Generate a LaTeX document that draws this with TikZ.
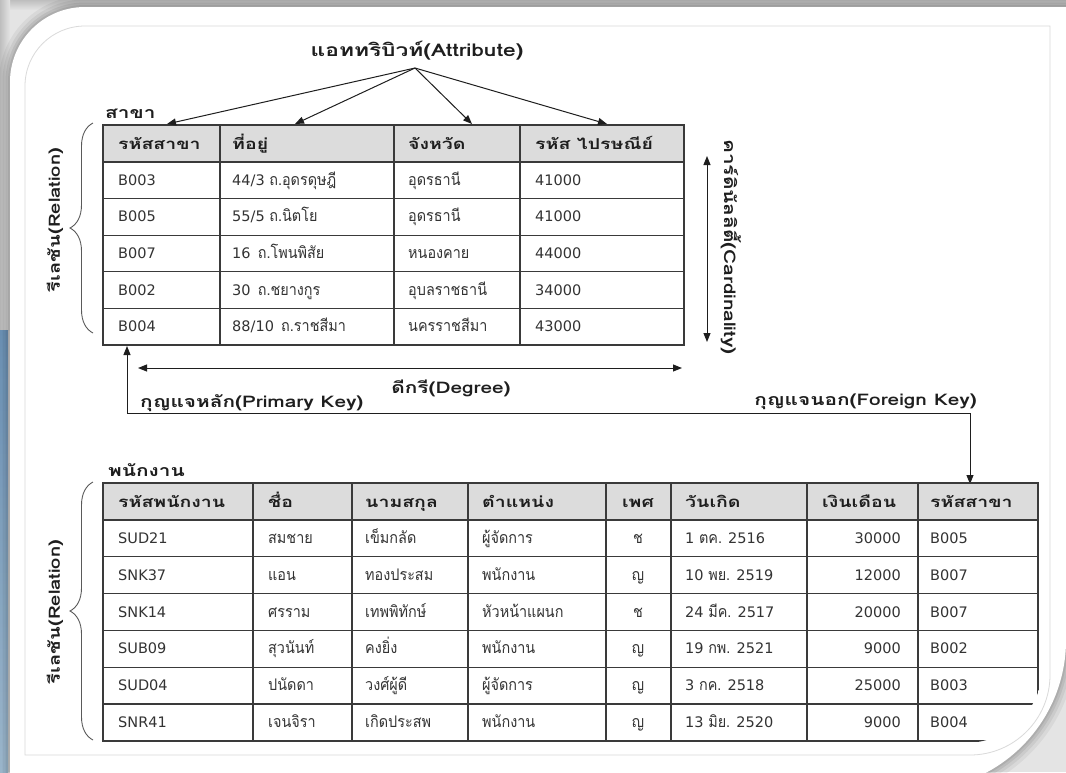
\documentclass[tikz,border=0pt]{standalone}
\usepackage{fontspec}
\setmainfont{DejaVu Sans}
\newfontfamily\thaireg[Script=Thai,FakeStretch=0.9]{Loma}
\newfontfamily\thaibold[Script=Thai,FakeStretch=1.3]{Loma}
\usetikzlibrary{arrows.meta,decorations.pathreplacing}

\definecolor{bggray}{HTML}{E4E4E4}
\definecolor{bandtop}{HTML}{BEBEBE}
\definecolor{stripA}{HTML}{6F96BB}
\definecolor{stripB}{HTML}{A3BFD5}
\definecolor{frameline}{HTML}{DADADA}
\definecolor{headfill}{HTML}{DCDCDC}
\definecolor{gridline}{HTML}{3A3A3A}
\definecolor{txt}{HTML}{333333}
\definecolor{ink}{HTML}{1E1E1E}
\definecolor{bracegray}{HTML}{5A5A5A}

\newcommand\bodyfont{\fontsize{14.5}{16}\selectfont}
\newcommand\T[1]{{\thaireg\fontsize{16}{18}\selectfont #1}}
\newcommand\headfont{\thaibold\bfseries\fontsize{15}{18}\selectfont}
\newcommand\labelfont{\thaibold\bfseries\fontsize{16}{19}\selectfont}
\newcommand\sidefont{\thaibold\bfseries\fontsize{15.5}{19}\selectfont}

% one row of the branch table: name, baseline y, four cells
\newcommand\brrow[6]{%
  \node[cell] (#1a) at (118,#2) {#3};
  \node[cell] (#1b) at (232,#2) {#4};
  \node[cell] (#1c) at (408,#2) {\T{#5}};
  \node[cell] (#1d) at (535,#2) {#6};}
% first seven cells of a staff row: name, baseline y, cells
\newcommand\emrow[9]{%
  \node[cell] (#1a) at (118,#2) {#3};
  \node[cell] (#1b) at (268,#2) {\T{#4}};
  \node[cell] (#1c) at (365,#2) {\T{#5}};
  \node[cell] (#1d) at (482,#2) {\T{#6}};
  \node[cellc] (#1e) at (638,#2) {\T{#7}};
  \node[cell] (#1f) at (685,#2) {#8};
  \node[cellr] (#1g) at (901,#2) {#9};}

\begin{document}
\begin{tikzpicture}[x=1pt,y=-1pt,
  cell/.style={anchor=base west,inner sep=0pt,font=\bodyfont,text=txt},
  cellc/.style={cell,anchor=base},
  cellr/.style={cell,anchor=base east},
  head/.style={cell,font=\headfont,text=ink},
  heading/.style={inner sep=0pt,font=\labelfont,text=ink},
  sidelabel/.style={heading,font=\sidefont},
  grid/.style={draw=gridline,line width=1.2pt},
  twoway/.style={draw=ink,line width=1pt,{Triangle[length=9pt,width=7pt]}-{Triangle[length=9pt,width=7pt]}},
  conn/.style={draw=ink,line width=1pt,-{Triangle[length=9pt,width=7pt]}},
  bracket/.style={draw=bracegray,line width=0.9pt,decorate,decoration={brace,amplitude=23pt,aspect=0.5}}]

\useasboundingbox (0,0) rectangle (1066,772);

% ---- page backdrop ----
\fill[bggray] (0,0) rectangle (1066,772);
\shade[top color=bandtop,bottom color=bggray] (0,0) rectangle (1066,10);
\shade[left color=bandtop,right color=bggray] (0,0) rectangle (10,330);
\shade[top color=stripA,bottom color=stripB] (0,330) rectangle (8,772);

% ---- white card with soft shadow ----
\def\cardpath{(10,790) -- (10,82) arc[start angle=180,end angle=270,radius=75]
  -- (1066,7) -- (1066,640) arc[start angle=0,end angle=90,radius=150] -- cycle}
\foreach \w/\o in {22/0.05,15/0.06,9/0.07,4/0.08}
  \draw[line width=\w pt,black,opacity=\o] \cardpath;
\fill[white] \cardpath;

% inner frame
\draw[frameline,line width=0.8pt] (25,755) -- (25,86) arc[start angle=180,end angle=270,radius=60]
  -- (1050,26) -- (1050,675) arc[start angle=0,end angle=90,radius=80] -- cycle;

% ================= branch table =================
\node[heading,anchor=base west] (brname) at (105,118) {สาขา};
\fill[headfill] (103,125) rectangle (684,162);
\foreach \y in {125,162,198.6,235.2,271.8,308.4,345}
  \draw[grid] (102.4,\y) -- (684.6,\y);
\foreach \x in {103,220,394,520,684}
  \draw[grid] (\x,125) -- (\x,345);

\node[head] (brh1) at (118,149) {รหัสสาขา};
\node[head] (brh2) at (232,149) {ที่อยู่};
\node[head] (brh3) at (408,149) {จังหวัด};
\node[head] (brh4) at (535,149) {รหัส ไปรษณีย์};
\brrow{r1}{185.3}{B003}{44/3 \T{ถ.อุดรดุษฎี}}{อุดรธานี}{41000}
\brrow{r2}{221.9}{B005}{55/5 \T{ถ.นิตโย}}{อุดรธานี}{41000}
\brrow{r3}{258.5}{B007}{16\enspace\T{ถ.โพนพิสัย}}{หนองคาย}{44000}
\brrow{r4}{295.1}{B002}{30\enspace\T{ถ.ชยางกูร}}{อุบลราชธานี}{34000}
\brrow{r5}{331.7}{B004}{88/10\enspace\T{ถ.ราชสีมา}}{นครราชสีมา}{43000}

% attribute arrows
\node[heading,font=\thaibold\bfseries\fontsize{17.5}{20}\selectfont] (attr) at (417,51) {แอททริบิวท์(Attribute)};
\coordinate (fan) at (415,68);
\coordinate (c1) at (167,124);
\coordinate (c2) at (295,124);
\coordinate (c3) at (472,124);
\coordinate (c4) at (607,124);
\foreach \c in {c1,c2,c3,c4} \draw[conn] (fan) -- (\c);

% relation brace
\draw[bracket] (93,333) -- (93,123);
\node[sidelabel,rotate=90] (rel1) at (55,220) {รีเลชัน(Relation)};

% cardinality
\coordinate (cardtop) at (707,156);
\coordinate (cardbot) at (707,342);
\draw[twoway] (cardtop) -- (cardbot);
\node[heading,rotate=-90] (card) at (731,247) {คาร์ดินัลลิตี้(Cardinality)};

% degree
\coordinate (degl) at (138,368);
\coordinate (degr) at (682,368);
\draw[twoway] (degl) -- (degr);
\node[heading,anchor=base] (deg) at (451,393) {ดีกรี(Degree)};

% primary key -> foreign key
\coordinate (pk) at (127,346);
\coordinate (fk) at (970,484);
\coordinate (kl) at (127,413);
\coordinate (kr) at (970,413);
\draw[twoway] (pk) -- (kl) -- (kr) -- (fk);
\node[heading,anchor=base west] (pkl) at (140,407) {กุญแจหลัก(Primary Key)};
\node[heading,anchor=base east] (fkl) at (977,405) {กุญแจนอก(Foreign Key)};

% ================= staff table =================
\node[heading,anchor=base west] (emname) at (108,476) {พนักงาน};
\begin{scope}
\clip (0,0) -- (1043,0) -- (1043,665) arc[start angle=0,end angle=90,radius=78]
  -- (965,772) -- (0,772) -- cycle;
\fill[headfill] (103,483) rectangle (1038,520);
\foreach \y in {483,520,556.8,593.6,630.4,667.2,704,741}
  \draw[grid] (102.4,\y) -- (1038.6,\y);
\foreach \x in {103,253,352,468,606,671,807,918,1038}
  \draw[grid] (\x,483) -- (\x,741);
\end{scope}

\node[head] (emh1) at (118,507) {รหัสพนักงาน};
\node[head] (emh2) at (268,507) {ชื่อ};
\node[head] (emh3) at (365,507) {นามสกุล};
\node[head] (emh4) at (482,507) {ตำแหน่ง};
\node[head,anchor=base] (emh5) at (638,507) {เพศ};
\node[head] (emh6) at (685,507) {วันเกิด};
\node[head] (emh7) at (822,507) {เงินเดือน};
\node[head] (emh8) at (930,507) {รหัสสาขา};

\emrow{e1}{543.4}{SUD21}{สมชาย}{เข็มกลัด}{ผู้จัดการ}{ช}{1 \T{ตค.} 2516}{30000}
\node[cell] (e1h) at (930,543.4) {B005};
\emrow{e2}{580.2}{SNK37}{แอน}{ทองประสม}{พนักงาน}{ญ}{10 \T{พย.} 2519}{12000}
\node[cell] (e2h) at (930,580.2) {B007};
\emrow{e3}{617.0}{SNK14}{ศรราม}{เทพพิทักษ์}{หัวหน้าแผนก}{ช}{24 \T{มีค.} 2517}{20000}
\node[cell] (e3h) at (930,617.0) {B007};
\emrow{e4}{653.8}{SUB09}{สุวนันท์}{คงยิ่ง}{พนักงาน}{ญ}{19 \T{กพ.} 2521}{9000}
\node[cell] (e4h) at (930,653.8) {B002};
\emrow{e5}{690.6}{SUD04}{ปนัดดา}{วงศ์ผู้ดี}{ผู้จัดการ}{ญ}{3 \T{กค.} 2518}{25000}
\node[cell] (e5h) at (930,690.6) {B003};
\emrow{e6}{727.4}{SNR41}{เจนจิรา}{เกิดประสพ}{พนักงาน}{ญ}{13 \T{มิย.} 2520}{9000}
\node[cell] (e6h) at (930,727.4) {B004};

\draw[bracket] (93,740) -- (93,482);
\node[sidelabel,rotate=90] (rel2) at (55,612) {รีเลชัน(Relation)};

\end{tikzpicture}
\end{document}
